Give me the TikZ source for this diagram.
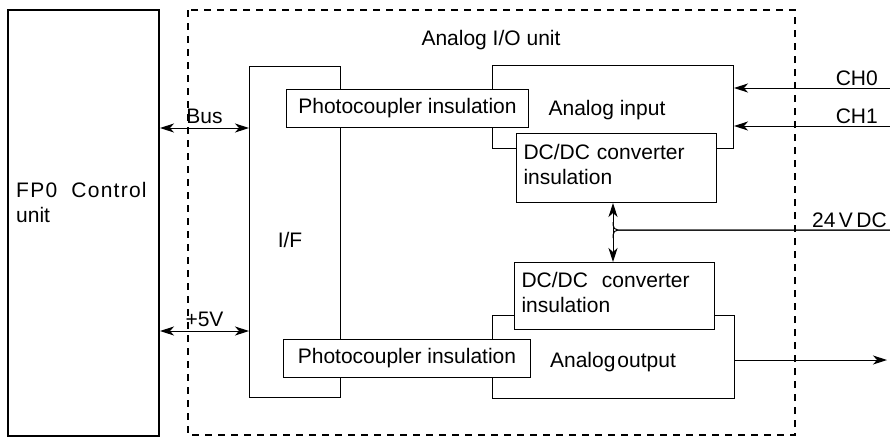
\documentclass[tikz,border=0pt]{standalone}
\usepackage{fontspec}
\setmainfont{Liberation Sans}
\usetikzlibrary{arrows.meta, positioning}

\begin{document}
\begin{tikzpicture}[x=1pt, y=-1pt,
        every node/.style={font=\fontsize{21}{25}\selectfont},
        box/.style={draw, line width=1pt, fill=white, inner sep=0pt, anchor=north west},
        dcbox/.style={box, inner xsep=7pt, text width=186pt, text depth=33pt, align=left},
        lbl/.style={inner sep=2pt},
        tip/.style={-{Stealth[length=14pt, width=9pt, inset=4pt]}, line width=1pt},
        dbl/.style={{Stealth[length=14pt, width=9pt, inset=4pt]}-{Stealth[length=14pt, width=9pt, inset=4pt]}, line width=1pt}]
        \useasboundingbox (0, 0) rectangle (890, 437);
        \node[box, line width=2pt, minimum width=151, minimum height=426] (fp0) at (7, 9) {};
        \node[anchor=west, align=left, inner sep=0pt] (fp0lbl) at (16, 202) {{\addfontfeature{LetterSpace=6}FP0\ \ Control}\\unit};
        \draw[line width=2.3pt, dash pattern=on 7pt off 6pt] (188, 10) rectangle (795, 435);
        \node (title) at (491, 40) {Analog I/O unit};

        \node[box, minimum width=91, minimum height=331] (iface) at (249, 66) {};
        \node (iflbl) at (290, 240) {I/F};
        \node[box, minimum width=241, minimum height=83] (ain) at (492, 65) {};
        \node[box, minimum width=242, minimum height=83] (aout) at (492, 315) {};
        \node (ainlbl) at (607, 110) {Analog input};
        \node (aoutlbl) at (613, 362) {Analog\hspace{2pt}output};
        \node[box, minimum width=242, minimum height=38] (pcin) at (286, 89) {Photocoupler insulation};
        \node[box, minimum width=247, minimum height=38] (pcout) at (283, 339) {Photocoupler insulation};
        \node[dcbox, minimum height=69] (dcin) at (516, 133) {DC/DC converter\\insulation};
        \node[dcbox, minimum height=67] (dcout) at (514, 262) {DC/DC\ \ converter\\insulation};

        \coordinate (busy) at (0, 128);
        \coordinate (pwry) at (0, 331);
        \draw[dbl] (fp0.east |- busy) -- node[lbl, above=2pt] (buslbl) {Bus} (iface.west |- busy);
        \draw[dbl] (fp0.east |- pwry) -- node[lbl, above=2pt] (pwrlbl) {+5V} (iface.west |- pwry);

        \coordinate (ch0) at (890, 88);
        \coordinate (ch1) at (890, 126);
        \draw[tip] (ch0) -- (ain.east |- ch0);
        \draw[tip] (ch1) -- (ain.east |- ch1);
        \node[lbl, anchor=south east] (ch0lbl) at ([xshift=-10pt]ch0) {CH0};
        \node[lbl, anchor=south east] (ch1lbl) at ([xshift=-10pt]ch1) {CH1};

        \coordinate (vdc) at (890, 230);
        \coordinate (vx) at (613, 230);
        \draw[dbl] (dcin.south -| vx) -- (dcout.north -| vx);
        \draw[line width=1pt, rounded corners=5pt] (vdc) -- (vx) -- ([yshift=8pt]vx);
        \draw[line width=1pt, rounded corners=5pt] (vdc) -- (vx) -- ([yshift=-8pt]vx);
        \node[lbl, anchor=south east] (vdclbl) at ([xshift=-1pt]vdc) {24\,V\,DC};

        \coordinate (outy) at (887, 360);
        \draw[tip] (aout.east |- outy) -- (outy);
    \end{tikzpicture}
\end{document}
